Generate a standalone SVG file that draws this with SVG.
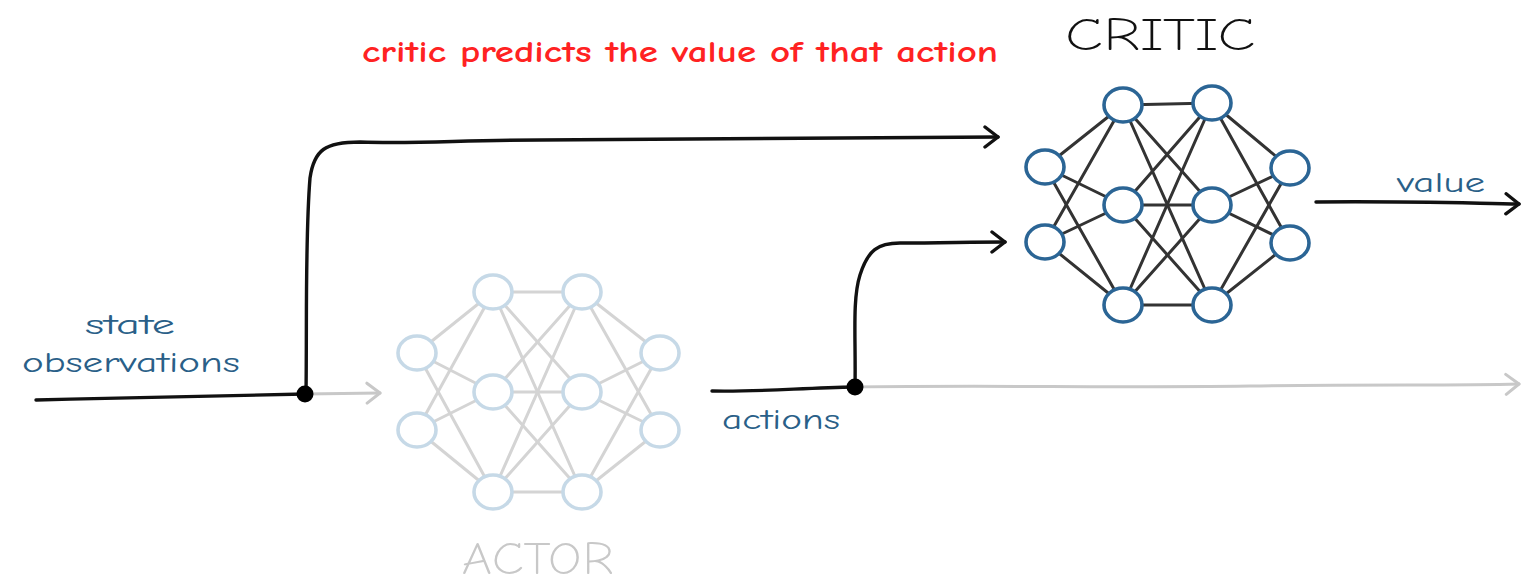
<svg xmlns="http://www.w3.org/2000/svg" width="1521" height="585" viewBox="0 0 1521 585">
<style>
.bg{fill:#ffffff}
.cn{fill:#ffffff;stroke:#2b6595;stroke-width:3.6}
.an{fill:#ffffff;stroke:#c6d9e7;stroke-width:3.6}
.ce{stroke:#333333;stroke-width:3;fill:none;stroke-linecap:round}
.ae{stroke:#d4d4d4;stroke-width:3;fill:none;stroke-linecap:round}
.blk{stroke:#111111;stroke-width:3.4;fill:none;stroke-linecap:round;stroke-linejoin:round}
.gry{stroke:#c8c8c8;stroke-width:3;fill:none;stroke-linecap:round}
.lbl{font-family:"Comic Neue","Liberation Sans",sans-serif;fill:#2a5f88;font-size:28px}
.red{font-family:"Comic Neue","Liberation Sans",sans-serif;fill:#ff2222;font-size:30px;font-weight:700}
.title{font-family:"Comic Neue","Liberation Sans",sans-serif;font-size:46px;font-weight:300}
</style>
<defs>
<marker id="ab" markerWidth="20" markerHeight="24" refX="17" refY="12" orient="auto" markerUnits="userSpaceOnUse">
<path d="M4,2 L17,12 L4,22" fill="none" stroke="#111111" stroke-width="3.4" stroke-linecap="round" stroke-linejoin="round"/>
</marker>
<marker id="ag" markerWidth="20" markerHeight="24" refX="17" refY="12" orient="auto" markerUnits="userSpaceOnUse">
<path d="M4,2 L17,12 L4,22" fill="none" stroke="#c8c8c8" stroke-width="3" stroke-linecap="round" stroke-linejoin="round"/>
</marker>
</defs>
<rect class="bg" x="0" y="0" width="1521" height="585"/>

<g id="connectors">
<path class="blk" d="M36,400 C120,398 200,396 305,394"/>
<path class="gry" d="M305,394 L380,393" marker-end="url(#ag)"/>
<path class="blk" d="M306,394 C307,320 305,240 310,178 C314,150 325,142 360,142 C420,144 460,140 540,140 C700,138 850,137 998,137" marker-end="url(#ab)"/>
<path class="blk" d="M712,391 C760,392 800,388 855,387"/>
<path class="gry" d="M855,387 C1000,385 1100,388 1250,386 C1380,384 1450,386 1519,384" marker-end="url(#ag)"/>
<path class="blk" d="M855,387 C856,340 852,300 860,275 C868,250 878,243 900,243 C940,243 970,242 1005,242" marker-end="url(#ab)"/>
<path class="blk" d="M1316,202 C1400,201 1460,203 1519,204" marker-end="url(#ab)"/>
<circle cx="305" cy="394" r="8.5" fill="#000000"/>
<circle cx="855" cy="387" r="8.5" fill="#000000"/>
</g>

<g id="actor">
<g id="actor-edges">
<line class="ae" x1="417" y1="353" x2="493" y2="292"/>
<line class="ae" x1="417" y1="353" x2="493" y2="392"/>
<line class="ae" x1="417" y1="353" x2="493" y2="492"/>
<line class="ae" x1="417" y1="430" x2="493" y2="292"/>
<line class="ae" x1="417" y1="430" x2="493" y2="392"/>
<line class="ae" x1="417" y1="430" x2="493" y2="492"/>
<line class="ae" x1="493" y1="292" x2="582" y2="292"/>
<line class="ae" x1="493" y1="292" x2="582" y2="392"/>
<line class="ae" x1="493" y1="292" x2="582" y2="492"/>
<line class="ae" x1="493" y1="392" x2="582" y2="292"/>
<line class="ae" x1="493" y1="392" x2="582" y2="392"/>
<line class="ae" x1="493" y1="392" x2="582" y2="492"/>
<line class="ae" x1="493" y1="492" x2="582" y2="292"/>
<line class="ae" x1="493" y1="492" x2="582" y2="392"/>
<line class="ae" x1="493" y1="492" x2="582" y2="492"/>
<line class="ae" x1="582" y1="292" x2="660" y2="353"/>
<line class="ae" x1="582" y1="292" x2="660" y2="430"/>
<line class="ae" x1="582" y1="392" x2="660" y2="353"/>
<line class="ae" x1="582" y1="392" x2="660" y2="430"/>
<line class="ae" x1="582" y1="492" x2="660" y2="353"/>
<line class="ae" x1="582" y1="492" x2="660" y2="430"/>
</g>
<ellipse class="an" cx="417" cy="353" rx="19" ry="17"/>
<ellipse class="an" cx="417" cy="430" rx="19" ry="17"/>
<ellipse class="an" cx="493" cy="292" rx="19" ry="17"/>
<ellipse class="an" cx="493" cy="392" rx="19" ry="17"/>
<ellipse class="an" cx="493" cy="492" rx="19" ry="17"/>
<ellipse class="an" cx="582" cy="292" rx="19" ry="17"/>
<ellipse class="an" cx="582" cy="392" rx="19" ry="17"/>
<ellipse class="an" cx="582" cy="492" rx="19" ry="17"/>
<ellipse class="an" cx="660" cy="353" rx="19" ry="17"/>
<ellipse class="an" cx="660" cy="430" rx="19" ry="17"/>
<text class="title" x="538" y="574" text-anchor="middle" fill="#c8c8c8" textLength="152" lengthAdjust="spacingAndGlyphs">ACTOR</text>
</g>

<g id="critic">
<g id="critic-edges">
<line class="ce" x1="1045" y1="167" x2="1123" y2="105"/>
<line class="ce" x1="1045" y1="167" x2="1123" y2="205"/>
<line class="ce" x1="1045" y1="167" x2="1123" y2="305"/>
<line class="ce" x1="1045" y1="242" x2="1123" y2="105"/>
<line class="ce" x1="1045" y1="242" x2="1123" y2="205"/>
<line class="ce" x1="1045" y1="242" x2="1123" y2="305"/>
<line class="ce" x1="1123" y1="105" x2="1212" y2="103"/>
<line class="ce" x1="1123" y1="105" x2="1212" y2="205"/>
<line class="ce" x1="1123" y1="105" x2="1212" y2="305"/>
<line class="ce" x1="1123" y1="205" x2="1212" y2="103"/>
<line class="ce" x1="1123" y1="205" x2="1212" y2="205"/>
<line class="ce" x1="1123" y1="205" x2="1212" y2="305"/>
<line class="ce" x1="1123" y1="305" x2="1212" y2="103"/>
<line class="ce" x1="1123" y1="305" x2="1212" y2="205"/>
<line class="ce" x1="1123" y1="305" x2="1212" y2="305"/>
<line class="ce" x1="1212" y1="103" x2="1290" y2="168"/>
<line class="ce" x1="1212" y1="103" x2="1290" y2="243"/>
<line class="ce" x1="1212" y1="205" x2="1290" y2="168"/>
<line class="ce" x1="1212" y1="205" x2="1290" y2="243"/>
<line class="ce" x1="1212" y1="305" x2="1290" y2="168"/>
<line class="ce" x1="1212" y1="305" x2="1290" y2="243"/>
</g>
<ellipse class="cn" cx="1045" cy="167" rx="19" ry="17"/>
<ellipse class="cn" cx="1045" cy="242" rx="19" ry="17"/>
<ellipse class="cn" cx="1123" cy="105" rx="19" ry="17"/>
<ellipse class="cn" cx="1123" cy="205" rx="19" ry="17"/>
<ellipse class="cn" cx="1123" cy="305" rx="19" ry="17"/>
<ellipse class="cn" cx="1212" cy="103" rx="19" ry="17"/>
<ellipse class="cn" cx="1212" cy="205" rx="19" ry="17"/>
<ellipse class="cn" cx="1212" cy="305" rx="19" ry="17"/>
<ellipse class="cn" cx="1290" cy="168" rx="19" ry="17"/>
<ellipse class="cn" cx="1290" cy="243" rx="19" ry="17"/>
<text class="title" x="1160" y="50" text-anchor="middle" fill="#111111" textLength="190" lengthAdjust="spacingAndGlyphs">CRITIC</text>
</g>

<g id="labels">
<text class="red" x="362" y="62" textLength="636" lengthAdjust="spacingAndGlyphs">critic predicts the value of that action</text>
<text class="lbl" x="130" y="334" text-anchor="middle" textLength="90" lengthAdjust="spacingAndGlyphs">state</text>
<text class="lbl" x="22" y="372" textLength="218" lengthAdjust="spacingAndGlyphs">observations</text>
<text class="lbl" x="722" y="429" textLength="118" lengthAdjust="spacingAndGlyphs">actions</text>
<text class="lbl" x="1397" y="192" textLength="88" lengthAdjust="spacingAndGlyphs">value</text>
</g>
</svg>
